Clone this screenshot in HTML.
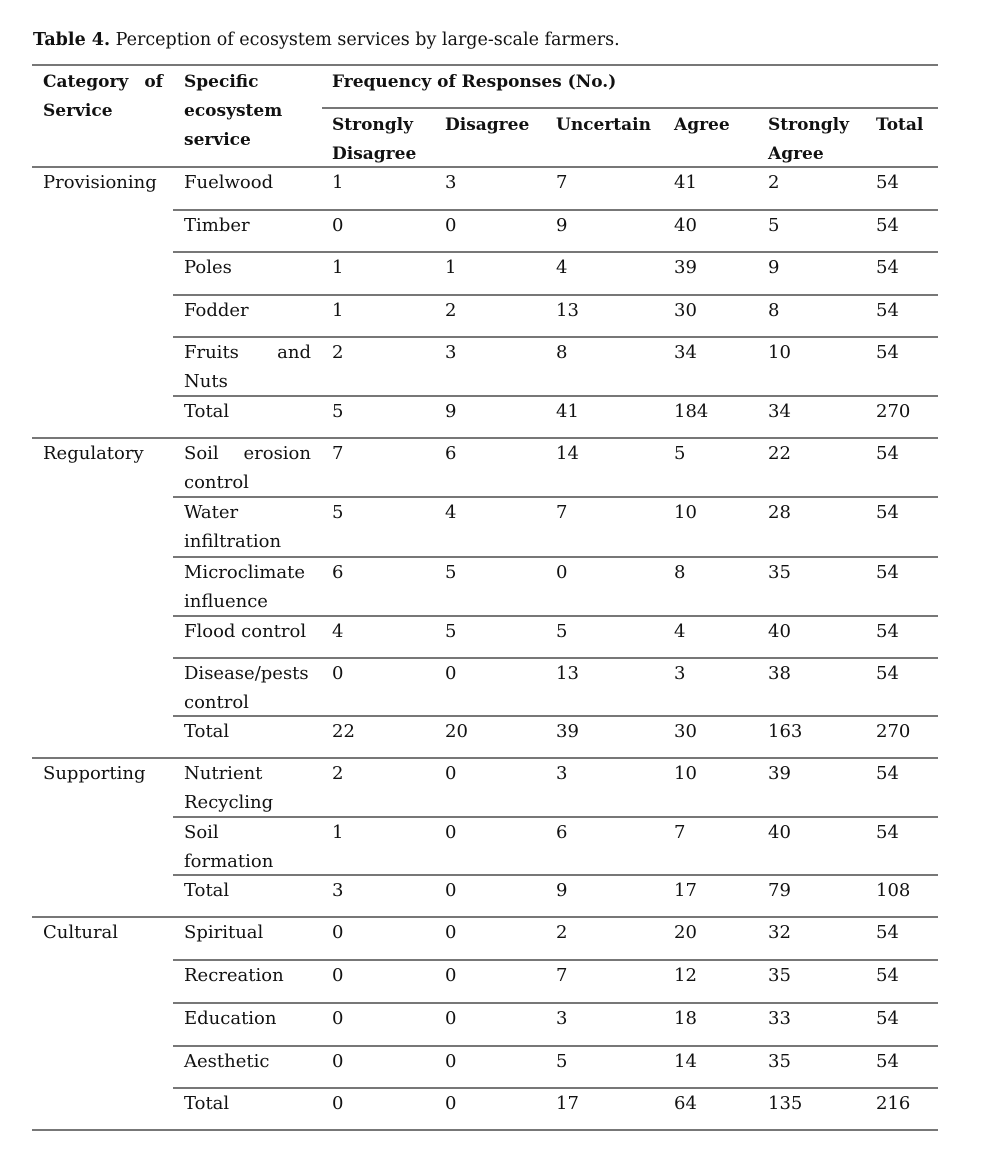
<!DOCTYPE html>
<html><head><meta charset="utf-8"><style>
body{margin:0;width:985px;height:1167px;background:#fff;position:relative;overflow:hidden;font-family:"DejaVu Serif","Liberation Serif",serif;font-size:18px;color:#111}
.t{position:absolute;line-height:29px;white-space:nowrap}
.b{font-weight:bold;font-size:17px}
.l{position:absolute;height:1.5px;background:#777}
.j{display:flex;justify-content:space-between;width:127px}
</style></head><body>
<div class="t" style="left:33px;top:26px;font-size:17.5px"><b>Table 4.</b> Perception of ecosystem services by large-scale farmers.</div>
<div class="l" style="left:32px;width:906px;top:64px;height:2px"></div>
<div class="l" style="left:322px;width:616px;top:107px"></div>
<div class="l" style="left:32px;width:906px;top:166px"></div>
<div class="t b" style="left:43px;top:68px"><div class="j" style="width:120px"><span>Category</span><span>of</span></div>Service</div>
<div class="t b" style="left:184px;top:68px">Specific<br>ecosystem<br>service</div>
<div class="t b" style="left:332px;top:68px">Frequency of Responses (No.)</div>
<div class="t b" style="left:332px;top:111px">Strongly<br>Disagree</div>
<div class="t b" style="left:445px;top:111px">Disagree</div>
<div class="t b" style="left:556px;top:111px">Uncertain</div>
<div class="t b" style="left:674px;top:111px">Agree</div>
<div class="t b" style="left:768px;top:111px">Strongly<br>Agree</div>
<div class="t b" style="left:876px;top:111px">Total</div>

<div class="l" style="left:173px;width:765px;top:209px"></div>
<div class="l" style="left:173px;width:765px;top:251px"></div>
<div class="l" style="left:173px;width:765px;top:294px"></div>
<div class="l" style="left:173px;width:765px;top:336px"></div>
<div class="l" style="left:173px;width:765px;top:395px"></div>
<div class="l" style="left:32px;width:906px;top:437px"></div>
<div class="l" style="left:173px;width:765px;top:496px"></div>
<div class="l" style="left:173px;width:765px;top:556px"></div>
<div class="l" style="left:173px;width:765px;top:615px"></div>
<div class="l" style="left:173px;width:765px;top:657px"></div>
<div class="l" style="left:173px;width:765px;top:715px"></div>
<div class="l" style="left:32px;width:906px;top:757px"></div>
<div class="l" style="left:173px;width:765px;top:816px"></div>
<div class="l" style="left:173px;width:765px;top:874px"></div>
<div class="l" style="left:32px;width:906px;top:916px"></div>
<div class="l" style="left:173px;width:765px;top:959px"></div>
<div class="l" style="left:173px;width:765px;top:1002px"></div>
<div class="l" style="left:173px;width:765px;top:1045px"></div>
<div class="l" style="left:173px;width:765px;top:1087px"></div>
<div class="l" style="left:32px;width:906px;top:1129px;height:2px"></div>

<div class="t" style="left:43px;top:168px">Provisioning</div>
<div class="t" style="left:43px;top:439px">Regulatory</div>
<div class="t" style="left:43px;top:759px">Supporting</div>
<div class="t" style="left:43px;top:918px">Cultural</div>

<div class="t" style="left:184px;top:168px">Fuelwood</div>
<div class="t" style="left:184px;top:211px">Timber</div>
<div class="t" style="left:184px;top:253px">Poles</div>
<div class="t" style="left:184px;top:296px">Fodder</div>
<div class="t" style="left:184px;top:338px"><div class="j"><span>Fruits</span><span>and</span></div>Nuts</div>
<div class="t" style="left:184px;top:397px">Total</div>
<div class="t" style="left:184px;top:439px"><div class="j"><span>Soil</span><span>erosion</span></div>control</div>
<div class="t" style="left:184px;top:498px">Water<br>infiltration</div>
<div class="t" style="left:184px;top:558px">Microclimate<br>influence</div>
<div class="t" style="left:184px;top:617px">Flood control</div>
<div class="t" style="left:184px;top:659px">Disease/pests<br>control</div>
<div class="t" style="left:184px;top:717px">Total</div>
<div class="t" style="left:184px;top:759px">Nutrient<br>Recycling</div>
<div class="t" style="left:184px;top:818px">Soil<br>formation</div>
<div class="t" style="left:184px;top:876px">Total</div>
<div class="t" style="left:184px;top:918px">Spiritual</div>
<div class="t" style="left:184px;top:961px">Recreation</div>
<div class="t" style="left:184px;top:1004px">Education</div>
<div class="t" style="left:184px;top:1047px">Aesthetic</div>
<div class="t" style="left:184px;top:1089px">Total</div>

<div class="t" style="left:332px;top:168px">1</div>
<div class="t" style="left:332px;top:211px">0</div>
<div class="t" style="left:332px;top:253px">1</div>
<div class="t" style="left:332px;top:296px">1</div>
<div class="t" style="left:332px;top:338px">2</div>
<div class="t" style="left:332px;top:397px">5</div>
<div class="t" style="left:332px;top:439px">7</div>
<div class="t" style="left:332px;top:498px">5</div>
<div class="t" style="left:332px;top:558px">6</div>
<div class="t" style="left:332px;top:617px">4</div>
<div class="t" style="left:332px;top:659px">0</div>
<div class="t" style="left:332px;top:717px">22</div>
<div class="t" style="left:332px;top:759px">2</div>
<div class="t" style="left:332px;top:818px">1</div>
<div class="t" style="left:332px;top:876px">3</div>
<div class="t" style="left:332px;top:918px">0</div>
<div class="t" style="left:332px;top:961px">0</div>
<div class="t" style="left:332px;top:1004px">0</div>
<div class="t" style="left:332px;top:1047px">0</div>
<div class="t" style="left:332px;top:1089px">0</div>

<div class="t" style="left:445px;top:168px">3</div>
<div class="t" style="left:445px;top:211px">0</div>
<div class="t" style="left:445px;top:253px">1</div>
<div class="t" style="left:445px;top:296px">2</div>
<div class="t" style="left:445px;top:338px">3</div>
<div class="t" style="left:445px;top:397px">9</div>
<div class="t" style="left:445px;top:439px">6</div>
<div class="t" style="left:445px;top:498px">4</div>
<div class="t" style="left:445px;top:558px">5</div>
<div class="t" style="left:445px;top:617px">5</div>
<div class="t" style="left:445px;top:659px">0</div>
<div class="t" style="left:445px;top:717px">20</div>
<div class="t" style="left:445px;top:759px">0</div>
<div class="t" style="left:445px;top:818px">0</div>
<div class="t" style="left:445px;top:876px">0</div>
<div class="t" style="left:445px;top:918px">0</div>
<div class="t" style="left:445px;top:961px">0</div>
<div class="t" style="left:445px;top:1004px">0</div>
<div class="t" style="left:445px;top:1047px">0</div>
<div class="t" style="left:445px;top:1089px">0</div>

<div class="t" style="left:556px;top:168px">7</div>
<div class="t" style="left:556px;top:211px">9</div>
<div class="t" style="left:556px;top:253px">4</div>
<div class="t" style="left:556px;top:296px">13</div>
<div class="t" style="left:556px;top:338px">8</div>
<div class="t" style="left:556px;top:397px">41</div>
<div class="t" style="left:556px;top:439px">14</div>
<div class="t" style="left:556px;top:498px">7</div>
<div class="t" style="left:556px;top:558px">0</div>
<div class="t" style="left:556px;top:617px">5</div>
<div class="t" style="left:556px;top:659px">13</div>
<div class="t" style="left:556px;top:717px">39</div>
<div class="t" style="left:556px;top:759px">3</div>
<div class="t" style="left:556px;top:818px">6</div>
<div class="t" style="left:556px;top:876px">9</div>
<div class="t" style="left:556px;top:918px">2</div>
<div class="t" style="left:556px;top:961px">7</div>
<div class="t" style="left:556px;top:1004px">3</div>
<div class="t" style="left:556px;top:1047px">5</div>
<div class="t" style="left:556px;top:1089px">17</div>

<div class="t" style="left:674px;top:168px">41</div>
<div class="t" style="left:674px;top:211px">40</div>
<div class="t" style="left:674px;top:253px">39</div>
<div class="t" style="left:674px;top:296px">30</div>
<div class="t" style="left:674px;top:338px">34</div>
<div class="t" style="left:674px;top:397px">184</div>
<div class="t" style="left:674px;top:439px">5</div>
<div class="t" style="left:674px;top:498px">10</div>
<div class="t" style="left:674px;top:558px">8</div>
<div class="t" style="left:674px;top:617px">4</div>
<div class="t" style="left:674px;top:659px">3</div>
<div class="t" style="left:674px;top:717px">30</div>
<div class="t" style="left:674px;top:759px">10</div>
<div class="t" style="left:674px;top:818px">7</div>
<div class="t" style="left:674px;top:876px">17</div>
<div class="t" style="left:674px;top:918px">20</div>
<div class="t" style="left:674px;top:961px">12</div>
<div class="t" style="left:674px;top:1004px">18</div>
<div class="t" style="left:674px;top:1047px">14</div>
<div class="t" style="left:674px;top:1089px">64</div>

<div class="t" style="left:768px;top:168px">2</div>
<div class="t" style="left:768px;top:211px">5</div>
<div class="t" style="left:768px;top:253px">9</div>
<div class="t" style="left:768px;top:296px">8</div>
<div class="t" style="left:768px;top:338px">10</div>
<div class="t" style="left:768px;top:397px">34</div>
<div class="t" style="left:768px;top:439px">22</div>
<div class="t" style="left:768px;top:498px">28</div>
<div class="t" style="left:768px;top:558px">35</div>
<div class="t" style="left:768px;top:617px">40</div>
<div class="t" style="left:768px;top:659px">38</div>
<div class="t" style="left:768px;top:717px">163</div>
<div class="t" style="left:768px;top:759px">39</div>
<div class="t" style="left:768px;top:818px">40</div>
<div class="t" style="left:768px;top:876px">79</div>
<div class="t" style="left:768px;top:918px">32</div>
<div class="t" style="left:768px;top:961px">35</div>
<div class="t" style="left:768px;top:1004px">33</div>
<div class="t" style="left:768px;top:1047px">35</div>
<div class="t" style="left:768px;top:1089px">135</div>

<div class="t" style="left:876px;top:168px">54</div>
<div class="t" style="left:876px;top:211px">54</div>
<div class="t" style="left:876px;top:253px">54</div>
<div class="t" style="left:876px;top:296px">54</div>
<div class="t" style="left:876px;top:338px">54</div>
<div class="t" style="left:876px;top:397px">270</div>
<div class="t" style="left:876px;top:439px">54</div>
<div class="t" style="left:876px;top:498px">54</div>
<div class="t" style="left:876px;top:558px">54</div>
<div class="t" style="left:876px;top:617px">54</div>
<div class="t" style="left:876px;top:659px">54</div>
<div class="t" style="left:876px;top:717px">270</div>
<div class="t" style="left:876px;top:759px">54</div>
<div class="t" style="left:876px;top:818px">54</div>
<div class="t" style="left:876px;top:876px">108</div>
<div class="t" style="left:876px;top:918px">54</div>
<div class="t" style="left:876px;top:961px">54</div>
<div class="t" style="left:876px;top:1004px">54</div>
<div class="t" style="left:876px;top:1047px">54</div>
<div class="t" style="left:876px;top:1089px">216</div>
</body></html>
